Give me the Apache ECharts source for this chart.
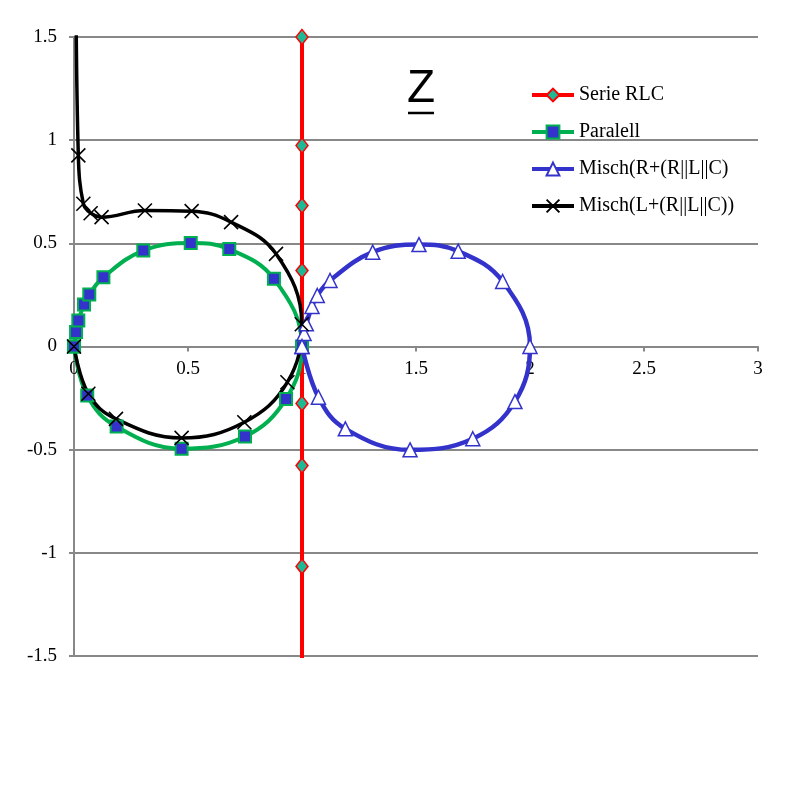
<!DOCTYPE html>
<html>
<head>
<meta charset="utf-8">
<script src="https://cdn.jsdelivr.net/npm/echarts@6/dist/echarts.min.js"></script>
<style>html,body{margin:0;padding:0;background:#fff}#c{width:800px;height:800px}</style>
</head>
<body>
<div id="c"></div>
<script>
// ---- data ----
const seriesNames = ['Serie RLC', 'Paralell', 'Misch(R+(R||L||C)', 'Misch(L+(R||L||C))'];
const xTicks = [0, 0.5, 1, 1.5, 2, 2.5, 3];
const yTicks = [-1.5, -1, -0.5, 0, 0.5, 1, 1.5];

const serieRLC_x = [1, 1, 1, 1, 1, 1, 1, 1, 1];
const serieRLC_y = [-1.9, -1.066, -0.577, -0.276, 0, 0.368, 0.683, 0.974, 1.5];

const paralell_x = [0, 0.009, 0.019, 0.044, 0.067, 0.129, 0.304, 0.512, 0.681, 0.877, 1.0, 0.93, 0.75, 0.472, 0.187, 0.058, 0];
const paralell_y = [0, 0.07, 0.126, 0.204, 0.252, 0.336, 0.465, 0.502, 0.472, 0.328, 0, -0.254, -0.436, -0.495, -0.388, -0.238, 0];

const mischR_x = [1.0, 1.009, 1.019, 1.044, 1.067, 1.123, 1.31, 1.513, 1.685, 1.88, 2.0, 1.934, 1.749, 1.474, 1.19, 1.072, 1.0];
const mischR_y = [0, 0.063, 0.11, 0.194, 0.247, 0.32, 0.457, 0.494, 0.462, 0.315, 0, -0.267, -0.447, -0.501, -0.399, -0.246, 0];

const mischL_x = [0, 0.063, 0.184, 0.472, 0.747, 0.936, 0.999, 0.886, 0.689, 0.516, 0.311, 0.121, 0.073, 0.041, 0.019, 0.008];
const mischL_y = [0, -0.229, -0.351, -0.443, -0.367, -0.173, 0.108, 0.449, 0.603, 0.656, 0.659, 0.627, 0.646, 0.692, 0.926, 2.0];

function pairs(xs, ys) { return xs.map((x, i) => [x, ys[i]]); }

const serif = 'Liberation Serif';
const X_PATH = 'path://M0,0L10,10M10,0L0,10';

// grid geometry (layout only)
const gridTop = 37, gridBottom = 144, chartH = 800;
const plotH = chartH - gridTop - gridBottom;
// move the x axis up so it sits on y = 0 (middle of the symmetric y range)
const xAxisOffset = -plotH / 2;

const chart = echarts.init(document.getElementById('c'), null, {renderer: 'canvas'});
chart.setOption({
  animation: false,
  backgroundColor: '#fff',
  grid: {left: 74, right: 42, top: gridTop, bottom: gridBottom, containLabel: false},
  xAxis: {
    type: 'value', min: xTicks[0], max: xTicks[xTicks.length - 1], interval: 0.5,
    position: 'bottom', offset: xAxisOffset,
    axisLine: {show: true, onZero: false, lineStyle: {color: '#888', width: 2}},
    axisTick: {show: true, length: 5, lineStyle: {color: '#888', width: 2}},
    axisLabel: {color: '#000', fontFamily: serif, fontSize: 19, margin: 13},
    splitLine: {show: false}
  },
  yAxis: {
    type: 'value', min: yTicks[0], max: yTicks[yTicks.length - 1], interval: 0.5,
    axisLine: {show: true, onZero: false, lineStyle: {color: '#888', width: 2}},
    axisTick: {show: true, length: 5, lineStyle: {color: '#888', width: 2}},
    axisLabel: {color: '#000', fontFamily: serif, fontSize: 19, margin: 17},
    splitLine: {show: true, lineStyle: {color: '#888', width: 2}}
  },
  legend: {
    orient: 'vertical', left: 525, top: 80,
    itemWidth: 42, itemHeight: 16, itemGap: 17,
    textStyle: {fontFamily: serif, fontSize: 20, color: '#000', lineHeight: 20},
    lineStyle: {width: 4},
    data: seriesNames
  },
  graphic: [
    {type: 'text', left: 407, top: 66, style: {text: 'Z', font: '46px "Liberation Sans"', fill: '#000'}},
    {type: 'line', shape: {x1: 408, y1: 113, x2: 434, y2: 113}, style: {stroke: '#000', lineWidth: 2.5}}
  ],
  series: [
    {
      name: seriesNames[0], type: 'line', data: pairs(serieRLC_x, serieRLC_y), clip: true,
      lineStyle: {color: '#FF0000', width: 4}, symbol: 'diamond', symbolSize: [12, 15],
      itemStyle: {color: '#1DB995', borderColor: '#FF0000', borderWidth: 1.5}
    },
    {
      name: seriesNames[1], type: 'line', data: pairs(paralell_x, paralell_y), clip: true, smooth: 0.4,
      lineStyle: {color: '#00B050', width: 4}, symbol: 'rect', symbolSize: 12,
      itemStyle: {color: '#3333CC', borderColor: '#00B050', borderWidth: 2}
    },
    {
      name: seriesNames[2], type: 'line', data: pairs(mischR_x, mischR_y), clip: true, smooth: 0.4,
      lineStyle: {color: '#3333CC', width: 4.5}, symbol: 'triangle', symbolSize: 14,
      itemStyle: {color: '#FFFFFF', borderColor: '#3333CC', borderWidth: 1.5}
    },
    {
      name: seriesNames[3], type: 'line', data: pairs(mischL_x, mischL_y), clip: true, smooth: 0.4,
      lineStyle: {color: '#000000', width: 3.5}, symbol: X_PATH, symbolSize: 14,
      itemStyle: {color: 'rgba(0,0,0,0)', borderColor: '#000000', borderWidth: 1.6}
    }
  ]
});
</script>
</body>
</html>
